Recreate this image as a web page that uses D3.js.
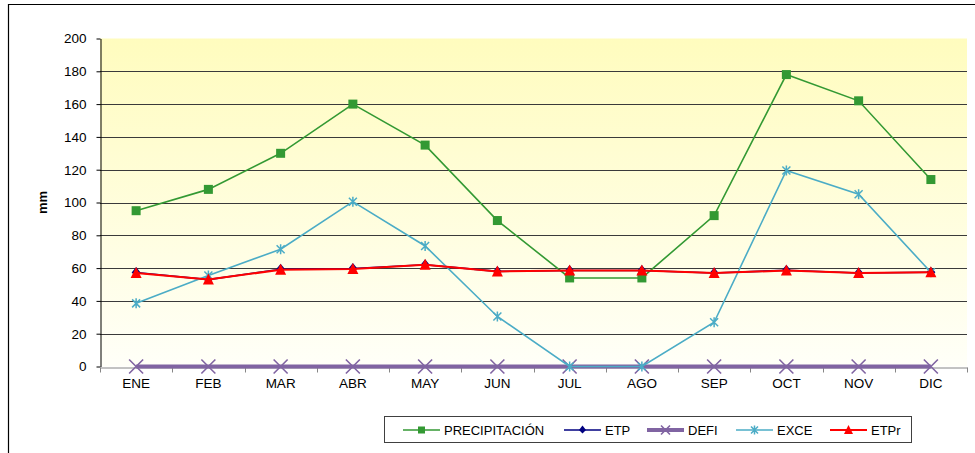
<!DOCTYPE html>
<html><head><meta charset="utf-8">
<script src="https://cdn.jsdelivr.net/npm/d3@7"></script>
<style>body{margin:0;background:#fff}svg{display:block;font-family:"Liberation Sans",Arial,sans-serif}</style>
</head><body><svg id="c" width="975" height="453"></svg>
<script>
const months = ["ENE","FEB","MAR","ABR","MAY","JUN","JUL","AGO","SEP","OCT","NOV","DIC"];
const precipitacion = [95,108,130,160,135,89,54,54,92,178,162,114];
const etp = [57.3,53,59.3,59.8,62,58,58.5,58.5,57,58.7,57,57.5];
const defi = [0,0,0,0,0,0,0,0,0,0,0,0];
const exce = [38.5,55.5,71.5,100.5,73.5,30.5,0,0,27,119.5,105,57.5];
const etpr = [57,53,59,59.5,62,58,58.5,58.5,57,58.5,57,57.5];
const yTicks = [0,20,40,60,80,100,120,140,160,180,200];
const yTitle = "mm";

const svg = d3.select("#c");
const L=100, R=967, T=38.5, B=366.5;
const x = d3.scaleBand().domain(months).range([L,R]);
const y = d3.scaleLinear().domain([0,200]).range([B,T]);
const cx = d => x(d)+x.bandwidth()/2;

svg.append("path").attr("d","M8.5,460V4.5H990").attr("fill","none").attr("stroke","#000").attr("stroke-width",1.2);

const defs = svg.append("defs");
const g = defs.append("linearGradient").attr("id","bg").attr("x1",0).attr("y1",0).attr("x2",0).attr("y2",1);
g.append("stop").attr("offset","0%").attr("stop-color","#FFFCBE");
g.append("stop").attr("offset","100%").attr("stop-color","#FFFFF8");
svg.append("rect").attr("x",L).attr("y",T).attr("width",R-L).attr("height",B-T).attr("fill","url(#bg)");

svg.append("g").selectAll("line").data(yTicks.filter(v=>v>0&&v<200)).join("line")
  .attr("x1",L).attr("x2",R).attr("y1",d=>Math.round(y(d))+0.5).attr("y2",d=>Math.round(y(d))+0.5)
  .attr("stroke","#3a3a3a").attr("stroke-width",1);

const ya = svg.append("g").attr("transform",`translate(${L+0.5},0)`)
  .call(d3.axisLeft(y).tickValues(yTicks).tickSize(4).tickPadding(10).tickSizeOuter(0));
ya.select(".domain").attr("stroke","#000");
ya.selectAll(".tick line").attr("stroke","#000");
ya.selectAll("text").attr("font-size",13.5).attr("fill","#000").attr("font-family","Liberation Sans, Arial");

const xa = svg.append("g").attr("transform",`translate(0,${Math.round(B)+0.5})`)
  .call(d3.axisBottom(x).tickSize(0).tickPadding(11));
xa.select(".domain").attr("stroke","#868686");
xa.selectAll("text").attr("font-size",13.5).attr("fill","#000").attr("font-family","Liberation Sans, Arial");
xa.append("g").selectAll("line").data(d3.range(months.length+1)).join("line")
  .attr("x1",i=>Math.round(L+i*x.step())+0.5).attr("x2",i=>Math.round(L+i*x.step())+0.5)
  .attr("y1",0).attr("y2",5).attr("stroke","#868686");

svg.append("text").attr("transform",`translate(47,${(T+B)/2}) rotate(-90)`)
  .attr("text-anchor","middle").attr("font-weight","bold").attr("font-size",13).text(yTitle);

const line = d3.line().x((d,i)=>cx(months[i])).y(d=>y(d));

const series = [
  {name:"PRECIPITACIÓN", data:precipitacion, color:"#339933", w:1.6, marker:"square"},
  {name:"ETP", data:etp, color:"#000080", w:1.6, marker:"diamond"},
  {name:"DEFI", data:defi, color:"#8064A2", w:4, marker:"x"},
  {name:"EXCE", data:exce, color:"#4BACC6", w:1.6, marker:"star"},
  {name:"ETPr", data:etpr, color:"#FF0000", w:2, marker:"triangle"}
];

function marker(sel, type, color, s){
  if(type==="square") sel.append("rect").attr("x",-s/2).attr("y",-s/2).attr("width",s).attr("height",s).attr("fill",color);
  else if(type==="diamond") sel.append("path").attr("d",`M0,${-s/2-1}L${s/2},0L0,${s/2}L${-s/2},0Z`).attr("fill",color);
  else if(type==="triangle") sel.append("path").attr("d",`M0,${-s/2-1}L${s/2+0.5},${s/2}L${-s/2-0.5},${s/2}Z`).attr("fill",color);
  else if(type==="x") sel.append("path").attr("d",`M${-s/2},${-s/2}L${s/2},${s/2}M${-s/2},${s/2}L${s/2},${-s/2}`).attr("stroke",color).attr("stroke-width",1.6);
  else if(type==="star") sel.append("path").attr("d",`M${-s/2},${-s/2}L${s/2},${s/2}M${-s/2},${s/2}L${s/2},${-s/2}M0,${-s/2-1}L0,${s/2+1}`).attr("stroke",color).attr("stroke-width",1.5);
}
const msize = {square:9, diamond:9, x:14, star:8, triangle:10};

series.forEach(s=>{
  svg.append("path").datum(s.data).attr("d",line).attr("fill","none").attr("stroke",s.color).attr("stroke-width",s.w);
  s.data.forEach((v,i)=>{
    const gm = svg.append("g").attr("transform",`translate(${cx(months[i])},${y(v)})`);
    marker(gm, s.marker, s.color, msize[s.marker]);
  });
});

const lg = svg.append("g");
lg.append("rect").attr("x",384.5).attr("y",416.5).attr("width",527).attr("height",26).attr("fill","#fff").attr("stroke","#404040").attr("stroke-width",1);
const lx = [403,564,647,736,830];
series.forEach((s,i)=>{
  const it = lg.append("g").attr("transform",`translate(${lx[i]},430)`);
  it.append("line").attr("x1",0).attr("x2",37).attr("y1",0).attr("y2",0).attr("stroke",s.color).attr("stroke-width",s.w);
  const m = it.append("g").attr("transform","translate(18.5,0)");
  marker(m, s.marker, s.color, s.marker==="x"?9:(s.marker==="triangle"?8:7));
  it.append("text").attr("x",41).attr("y",4.5).attr("font-size",13).attr("fill","#000").text(s.name);
});
</script></body></html>
